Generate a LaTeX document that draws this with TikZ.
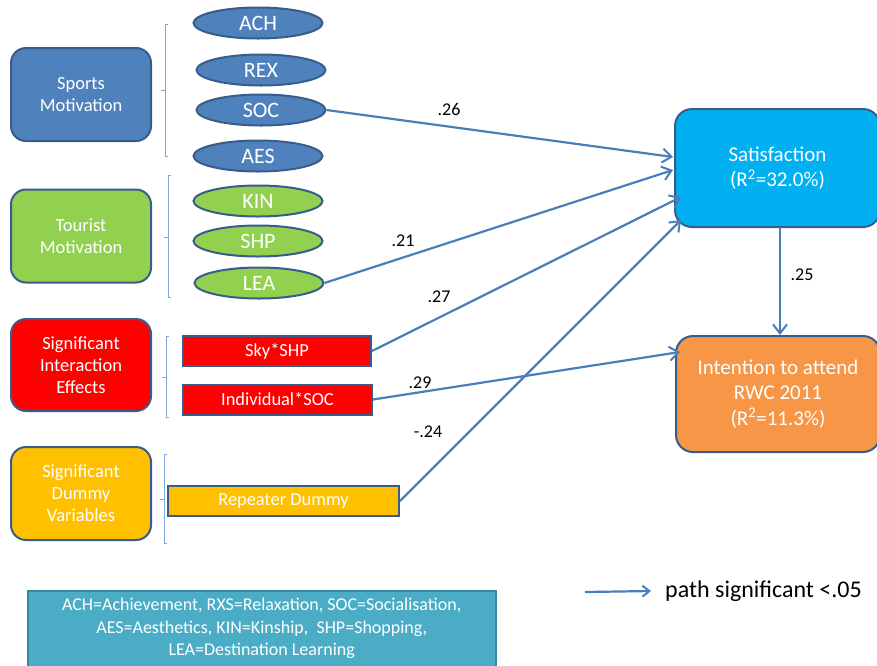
\documentclass[tikz,border=0pt]{standalone}
\usepackage{fontspec}
\setmainfont{Carlito}
\usetikzlibrary{arrows.meta,shapes.geometric}
\definecolor{bdr}{HTML}{385D8A}
\definecolor{sblue}{HTML}{4F81BD}
\definecolor{sgreen}{HTML}{92D050}
\definecolor{sred}{HTML}{FF0000}
\definecolor{syel}{HTML}{FFC000}
\definecolor{scyan}{HTML}{00B0F0}
\definecolor{sorange}{HTML}{F79646}
\definecolor{legbg}{HTML}{4BACC6}
\definecolor{legbd}{HTML}{3A87A0}
\definecolor{arr}{HTML}{4A7EBB}
\definecolor{brk}{HTML}{7FA6D6}
\tikzset{
  catbox/.style={draw=bdr, line width=2pt, rounded corners=15pt, minimum width=140pt, minimum height=93pt, align=center, text=white, font=\fontsize{18.5}{22}\selectfont},
  ell/.style={ellipse, draw=bdr, line width=2pt, fill=sblue, minimum width=129pt, minimum height=31pt, inner sep=0pt, text=white, font=\fontsize{22}{24}\selectfont},
  gell/.style={ell, fill=sgreen},
  rbox/.style={draw=bdr, line width=2pt, minimum height=30pt, inner sep=0pt, text=white, font=\fontsize{18.4}{20}\selectfont},
  outbox/.style={draw=bdr, line width=2pt, rounded corners=17pt, align=center, text=white, font=\fontsize{21}{25.5}\selectfont},
  path/.style={draw=arr, line width=2.2pt, -{Straight Barb[length=9pt,width=14pt,line width=2pt]}},
  lab/.style={font=\fontsize{18}{20}\selectfont, text=black},
  brack/.style={draw=brk, line width=0.8pt}
}
\begin{document}
\begin{tikzpicture}[x=1pt,y=-1pt]
\useasboundingbox (0,0) rectangle (877,665);
\fill[white] (0,0) rectangle (877,665);
\begin{scope}
\clip (0,0) rectangle (877,665);
% category boxes
\node[catbox, fill=sblue] (sport) at (81,94.5) {Sports\\Motivation};
\node[catbox, fill=sgreen] (tour) at (81,236) {Tourist\\Motivation};
\node[catbox, fill=sred, minimum height=92pt] (inter) at (81,365) {Significant\\Interaction\\Effects};
\node[catbox, fill=syel] (dummy) at (81,493.5) {Significant\\Dummy\\Variables};
% brackets
\draw[brack] (168,24) -- (165,24) -- (165,156) -- (168,156) (165,90) -- (161,90);
\draw[brack] (171,175) -- (168,175) -- (168,297) -- (171,297) (168,237) -- (164,237);
\draw[brack] (169,336) -- (166,336) -- (166,417) -- (169,417) (166,377) -- (162,377);
\draw[brack] (167,454) -- (164,454) -- (164,543) -- (167,543) (164,499) -- (160,499);
% ellipses
\node[ell] (ach) at (258,23) {ACH};
\node[ell] (rex) at (261,70) {REX};
\node[ell] (soc) at (261,110) {SOC};
\node[ell] (aes) at (258,156) {AES};
\node[gell] (kin) at (258,201) {KIN};
\node[gell] (shp) at (258,241) {SHP};
\node[gell] (lea) at (259,283) {LEA};
% rectangles
\node[rbox, fill=sred, minimum width=188pt] (sky) at (277,351) {Sky*SHP};
\node[rbox, fill=sred, minimum width=189pt] (ind) at (277.5,399.5) {Individual*SOC};
\node[rbox, fill=syel, minimum width=231pt] (rep) at (283.5,501) {Repeater Dummy};
% outcomes
\node[outbox, fill=scyan, minimum width=205pt, minimum height=118pt] (sat) at (777.5,168) {Satisfaction\\(R\textsuperscript{2}=32.0\%)};
\node[outbox, fill=sorange, minimum width=204pt, minimum height=116pt] (int) at (778,394) {Intention to attend\\RWC 2011\\(R\textsuperscript{2}=11.3\%)};
% anchors for arrow ends
\coordinate (e1) at (673,157);
\coordinate (e2) at (673,170);
\coordinate (e3) at (681,197);
\coordinate (e4) at (681,220);
\coordinate (e5) at (680,352);
\coordinate (s1) at (780,227);
\coordinate (s2) at (780,335);
\draw[path] (soc.east) -- (e1);
\draw[path] (lea.east) -- (e2);
\draw[path] (sky.east) -- (e3);
\draw[path] (rep.east) -- (e4);
\draw[path] (ind.east) -- (e5);
\draw[path] (s1) -- (s2);
% labels
\node[lab] (l26) at (449,109) {.26};
\node[lab] (l21) at (403,241) {.21};
\node[lab] (l27) at (439,297) {.27};
\node[lab] (l29) at (420,383) {.29};
\node[lab] (l24) at (428,432) {-.24};
\node[lab] (l25) at (802,275) {.25};
% legend
\node[draw=legbd, line width=1.5pt, fill=legbg, minimum width=468pt, minimum height=76pt, align=center, text=white, font=\fontsize{18}{22.5}\selectfont, anchor=north west, inner sep=0pt] (leg) at (27,590) {ACH=Achievement, RXS=Relaxation, SOC=Socialisation,\\AES=Aesthetics, KIN=Kinship,\ \ SHP=Shopping,\\LEA=Destination Learning};
\coordinate (la) at (585,592);
\node[font=\fontsize{24}{26}\selectfont, anchor=west, inner sep=0pt] (lt) at (665,591) {path significant <.05};
\draw[path, -{Straight Barb[length=7pt,width=11pt,line width=2pt]}] (la) -- (lt.west -| 651,0);
\end{scope}
\end{tikzpicture}
\end{document}
